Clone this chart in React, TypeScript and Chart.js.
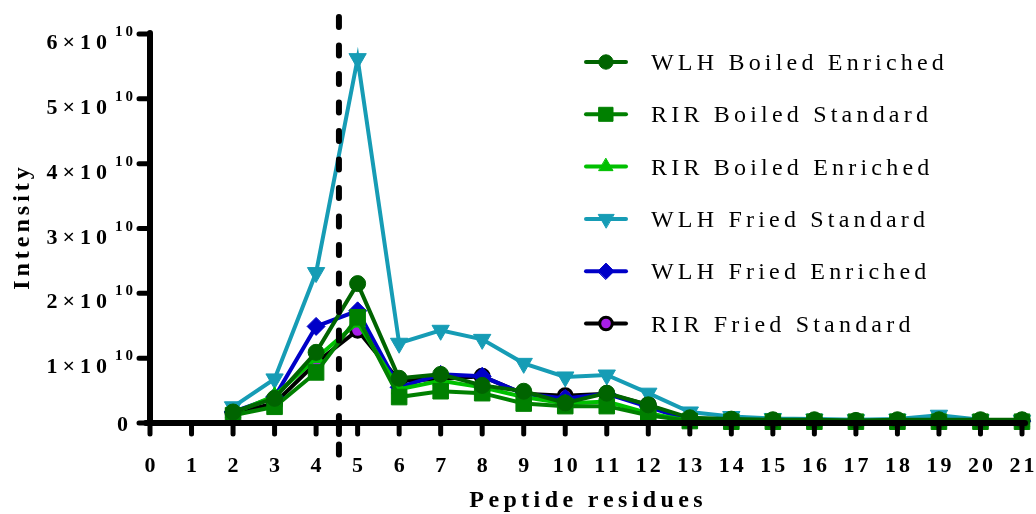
import React, { useEffect, useRef } from "react";
import { Chart, registerables } from "chart.js";
import { drawPoint } from "chart.js/helpers";

Chart.register(...registerables);

const residues = [0, 1, 2, 3, 4, 5, 6, 7, 8, 9, 10, 11, 12, 13, 14, 15, 16, 17, 18, 19, 20, 21];

const wlhBoiledEnriched = [null, null, 0.17e10, 0.38e10, 1.09e10, 2.15e10, 0.69e10, 0.75e10, 0.58e10, 0.49e10, 0.31e10, 0.46e10, 0.28e10, 0.08e10, 0.06e10, 0.05e10, 0.05e10, 0.04e10, 0.05e10, 0.05e10, 0.05e10, 0.05e10];
const rirBoiledStandard = [null, null, 0.12e10, 0.25e10, 0.78e10, 1.63e10, 0.4e10, 0.49e10, 0.46e10, 0.3e10, 0.26e10, 0.26e10, 0.12e10, 0.03e10, 0.02e10, 0.02e10, 0.02e10, 0.02e10, 0.02e10, 0.02e10, 0.02e10, 0.02e10];
const rirBoiledEnriched = [null, null, 0.15e10, 0.42e10, 1.0e10, 1.55e10, 0.52e10, 0.65e10, 0.55e10, 0.4e10, 0.3e10, 0.33e10, 0.15e10, 0.03e10, 0.02e10, 0.02e10, 0.02e10, 0.02e10, 0.02e10, 0.02e10, 0.02e10, 0.02e10];
const wlhFriedStandard = [null, null, 0.25e10, 0.68e10, 2.32e10, 5.62e10, 1.23e10, 1.43e10, 1.29e10, 0.92e10, 0.71e10, 0.74e10, 0.46e10, 0.17e10, 0.1e10, 0.07e10, 0.06e10, 0.05e10, 0.06e10, 0.12e10, 0.05e10, 0.04e10];
const wlhFriedEnriched = [null, null, 0.17e10, 0.4e10, 1.49e10, 1.73e10, 0.55e10, 0.75e10, 0.72e10, 0.45e10, 0.38e10, 0.45e10, 0.25e10, 0.04e10, 0.03e10, 0.03e10, 0.03e10, 0.03e10, 0.03e10, 0.03e10, 0.03e10, 0.03e10];
const rirFriedStandard = [null, null, 0.15e10, 0.3e10, 0.93e10, 1.43e10, 0.65e10, 0.68e10, 0.72e10, 0.45e10, 0.42e10, 0.45e10, 0.28e10, 0.05e10, 0.03e10, 0.03e10, 0.03e10, 0.03e10, 0.03e10, 0.03e10, 0.03e10, 0.03e10];

const seriesNames = [
  "WLH Boiled Enriched",
  "RIR Boiled Standard",
  "RIR Boiled Enriched",
  "WLH Fried Standard",
  "WLH Fried Enriched",
  "RIR Fried Standard",
];
const yTickValues = [0, 1e10, 2e10, 3e10, 4e10, 5e10, 6e10];
const xTitle = "Peptide residues";
const yTitle = "Intensity";
const cutoffResidue = 4.55;

const FONT = '"Liberation Serif", "Times New Roman", serif';

function drawSpaced(ctx: CanvasRenderingContext2D, text: string, x: number, y: number, spacing: number, align: "left" | "center" | "right") {
  const chars = Array.from(text);
  const widths = chars.map((c) => ctx.measureText(c).width);
  const total = widths.reduce((a, b) => a + b, 0) + spacing * (chars.length - 1);
  let cx = align === "center" ? x - total / 2 : align === "right" ? x - total : x;
  ctx.textAlign = "left";
  chars.forEach((c, i) => {
    ctx.fillText(c, cx, y);
    cx += widths[i] + spacing;
  });
  return total;
}

const toPoints = (arr: (number | null)[]) => residues.map((r, i) => ({ x: r, y: arr[i] }));

export default function App() {
  const ref = useRef<HTMLCanvasElement>(null);
  useEffect(() => {
    const canvas = ref.current!;
    const styles = [
      { color: "#006400", fill: "#006400", pb: "#006400", style: "circle", r: 8, rot: 0, pbw: 1 },
      { color: "#008000", fill: "#008000", pb: "#008000", style: "rect", r: 11, rot: 0, pbw: 1 },
      { color: "#00c000", fill: "#00c000", pb: "#00c000", style: "triangle", r: 9, rot: 0, pbw: 1 },
      { color: "#169cb5", fill: "#169cb5", pb: "#169cb5", style: "triangle", r: 10, rot: 180, pbw: 1 },
      { color: "#0000c8", fill: "#0000c8", pb: "#0000c8", style: "rectRot", r: 9, rot: 0, pbw: 1 },
      { color: "#000000", fill: "#a81ee8", pb: "#000000", style: "circle", r: 7, rot: 0, pbw: 3 },
    ];
    const allData = [wlhBoiledEnriched, rirBoiledStandard, rirBoiledEnriched, wlhFriedStandard, wlhFriedEnriched, rirFriedStandard];

    const axesPlugin = {
      id: "axesOnTop",
      afterDatasetsDraw(chart: any) {
        const ctx = chart.ctx as CanvasRenderingContext2D;
        const xs = chart.scales.x;
        const ys = chart.scales.y;
        const area = chart.chartArea;
        ctx.save();
        ctx.strokeStyle = "#000";
        ctx.lineCap = "round";
        ctx.lineWidth = 6;
        ctx.beginPath();
        ctx.moveTo(area.left, area.top - 1);
        ctx.lineTo(area.left, area.bottom);
        ctx.moveTo(area.left - 4, area.bottom);
        ctx.lineTo(area.right + 3, area.bottom);
        ctx.stroke();
        ctx.lineWidth = 5;
        ctx.beginPath();
        yTickValues.forEach((v) => {
          const py = ys.getPixelForValue(v);
          ctx.moveTo(area.left - 11, py);
          ctx.lineTo(area.left, py);
        });
        residues.forEach((r) => {
          const px = xs.getPixelForValue(r);
          ctx.moveTo(px, area.bottom);
          ctx.lineTo(px, area.bottom + 11);
        });
        ctx.stroke();
        ctx.restore();
      },
    };

    const overlay = {
      id: "overlay",
      afterDraw(chart: any) {
        const ctx = chart.ctx as CanvasRenderingContext2D;
        const xs = chart.scales.x;
        const ys = chart.scales.y;
        const area = chart.chartArea;
        ctx.save();
        // dashed cutoff line
        const dx = xs.getPixelForValue(cutoffResidue);
        ctx.strokeStyle = "#000";
        ctx.lineWidth = 6;
        ctx.lineCap = "round";
        ctx.setLineDash([10, 18.5]);
        ctx.beginPath();
        ctx.moveTo(dx, 17);
        ctx.lineTo(dx, 466);
        ctx.stroke();
        ctx.setLineDash([]);
        ctx.beginPath();
        ctx.moveTo(dx, area.bottom);
        ctx.lineTo(dx, area.bottom + 11);
        ctx.stroke();

        ctx.fillStyle = "#000";
        ctx.textBaseline = "alphabetic";
        // x tick labels
        ctx.font = `bold 22px ${FONT}`;
        residues.forEach((r) => {
          drawSpaced(ctx, String(r), xs.getPixelForValue(r), 472, 3, "center");
        });
        // y tick labels
        yTickValues.forEach((v) => {
          const py = ys.getPixelForValue(v);
          if (v === 0) {
            ctx.font = `bold 22px ${FONT}`;
            drawSpaced(ctx, "0", 128, py + 8, 0, "right");
          } else {
            ctx.font = `bold 15px ${FONT}`;
            const w = drawSpaced(ctx, "10", 133, py + 2, 3, "right");
            ctx.font = `bold 22px ${FONT}`;
            drawSpaced(ctx, `${Math.round(v / 1e10)}×10`, 133 - w - 8, py + 15, 5, "right");
          }
        });
        // axis titles
        ctx.font = `bold 24px ${FONT}`;
        drawSpaced(ctx, xTitle, (area.left + area.right) / 2, 507, 4.4, "center");
        ctx.save();
        ctx.translate(29, (area.top + area.bottom) / 2);
        ctx.rotate(-Math.PI / 2);
        drawSpaced(ctx, yTitle, 0, 0, 4, "center");
        ctx.restore();

        // legend
        ctx.font = `24px ${FONT}`;
        chart.data.datasets.forEach((ds: any, i: number) => {
          const cy = 62 + i * 52.3;
          ctx.strokeStyle = ds.borderColor;
          ctx.lineWidth = 4;
          ctx.lineCap = "round";
          ctx.beginPath();
          ctx.moveTo(586, cy);
          ctx.lineTo(626, cy);
          ctx.stroke();
          ctx.fillStyle = ds.pointBackgroundColor;
          ctx.strokeStyle = ds.pointBorderColor;
          ctx.lineWidth = ds.pointBorderWidth;
          drawPoint(ctx, { pointStyle: ds.pointStyle, rotation: ds.pointRotation, radius: ds.pointRadius * 0.9, borderWidth: ds.pointBorderWidth }, 606, cy);
          ctx.fillStyle = "#000";
          drawSpaced(ctx, ds.label, 651, cy + 8, 4.2, "left");
        });
        ctx.restore();
      },
    };

    const chart = new Chart(canvas, {
      type: "line",
      data: {
        datasets: seriesNames.map((name, i) => ({
          label: name,
          data: toPoints(allData[i]),
          borderColor: styles[i].color,
          backgroundColor: styles[i].fill,
          pointBackgroundColor: styles[i].fill,
          pointBorderColor: styles[i].pb,
          pointBorderWidth: styles[i].pbw,
          pointStyle: styles[i].style,
          pointRadius: styles[i].r,
          pointRotation: styles[i].rot,
          borderWidth: 4,
          tension: 0,
          clip: false,
        })),
      } as any,
      options: {
        responsive: false,
        animation: false,
        devicePixelRatio: 1,
        layout: { padding: { top: 34, right: 14, left: 0, bottom: 0 } },
        plugins: { legend: { display: false }, tooltip: { enabled: false } },
        scales: {
          x: {
            type: "linear",
            min: 0,
            max: 21,
            afterFit: (s: any) => {
              s.height = 91;
            },
            ticks: { display: false, stepSize: 1 },
            grid: { display: false },
            border: { display: false },
          },
          y: {
            type: "linear",
            min: 0,
            max: 6e10,
            afterFit: (s: any) => {
              s.width = 150;
            },
            ticks: { display: false, stepSize: 1e10 },
            grid: { display: false },
            border: { display: false },
          },
        },
      } as any,
      plugins: [axesPlugin, overlay],
    });
    return () => chart.destroy();
  }, []);
  return (
    <div style={{ position: "absolute", left: 0, top: 0, width: 1036, height: 514, background: "#fff" }}>
      <canvas ref={ref} width={1036} height={514} style={{ display: "block" }} />
    </div>
  );
}
